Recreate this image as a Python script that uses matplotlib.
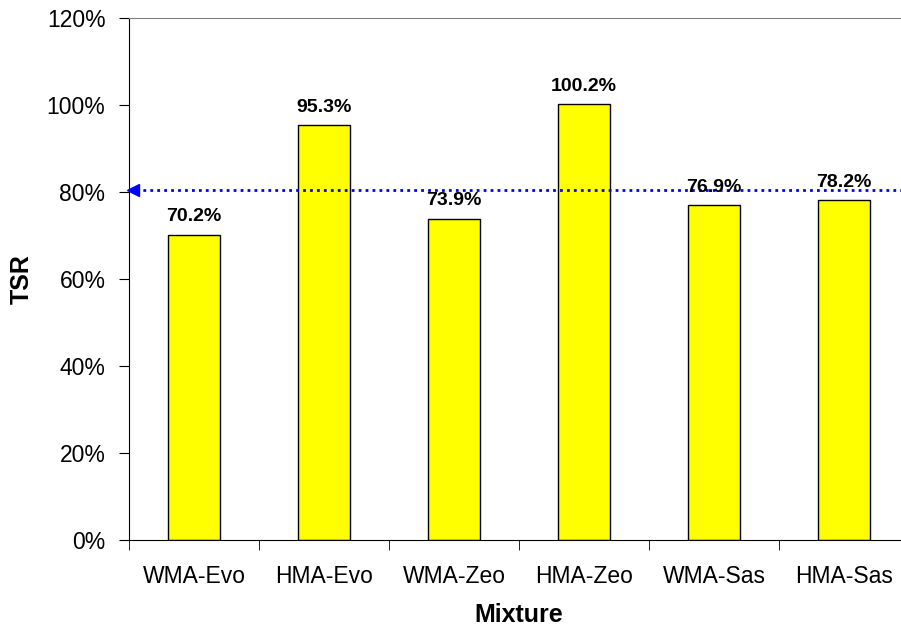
import matplotlib
matplotlib.use("Agg")
import matplotlib.pyplot as plt
import numpy as np

categories = ["WMA-Evo", "HMA-Evo", "WMA-Zeo", "HMA-Zeo", "WMA-Sas", "HMA-Sas"]
tsr = [70.2, 95.3, 73.9, 100.2, 76.9, 78.2]
threshold = 80.5

plt.rcParams['font.family'] = ['Liberation Sans', 'DejaVu Sans']

fig = plt.figure(figsize=(9.01, 6.29), dpi=100)
ax = fig.add_axes([129/901, 1-540/629, 780/901, (540-18)/629])

x = np.arange(len(categories))
ax.bar(x, tsr, width=0.4, color="#FFFF00", edgecolor="black", linewidth=1, zorder=2)
for xi, v in zip(x, tsr):
    ax.annotate(f"{v:.1f}%", xy=(xi, v), xytext=(0, 9.5), textcoords="offset points",
                ha="center", va="baseline", fontsize=14, fontweight="bold", zorder=5)

ax.set_xlim(-0.5, len(categories) - 0.5)
ax.set_ylim(0, 120)
ax.plot([-0.5, len(categories) - 0.5], [threshold, threshold], color="blue",
        linestyle=(0, (1, 1.5)), linewidth=2, zorder=3)
ax.plot([-0.47], [threshold], marker="<", color="blue", markersize=8, zorder=4, clip_on=False)

yt = np.arange(0, 121, 20)
ax.set_yticks(yt)
ax.set_yticklabels([f"{int(t)}%" for t in yt], fontsize=16.5)
ax.set_xticks(x)
ax.set_xticklabels(categories, fontsize=16.5)
ax.tick_params(axis="x", which="major", length=0, pad=18)
ax.set_xticks(np.arange(-0.5, len(categories), 1), minor=True)
ax.tick_params(axis="x", which="minor", length=7, direction="out", color="black")
ax.tick_params(axis="y", length=7, direction="out", pad=10)

ax.spines["top"].set_color("#808080")
ax.spines["right"].set_visible(False)
ax.spines["left"].set_color("black")
ax.spines["bottom"].set_color("black")

ax.set_xlabel("Mixture", fontsize=18, fontweight="bold", labelpad=11)
ax.set_ylabel("TSR", fontsize=18, fontweight="bold", labelpad=9)

fig.savefig("out.png", dpi=100)
